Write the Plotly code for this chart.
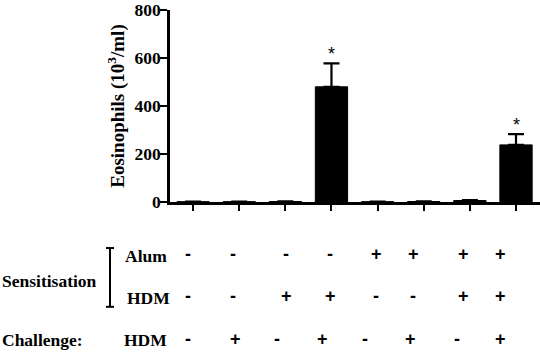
import plotly.graph_objects as go

# ---- data ----
groups = ["G1", "G2", "G3", "G4", "G5", "G6", "G7", "G8"]
eos_values = [1, 1, 2, 480, 1, 2, 6, 238]
eos_errors = [1, 1, 1, 98, 1, 1, 2, 45]
significant = [False, False, False, True, False, False, False, True]
alum_row = ["-", "-", "-", "-", "+", "+", "+", "+"]
hdm_sens_row = ["-", "-", "+", "+", "-", "-", "+", "+"]
challenge_row = ["-", "+", "-", "+", "-", "+", "-", "+"]
y_ticks = [0, 200, 400, 600, 800]

# ---- layout constants (pixels) ----
W, H = 540, 353
L, R, T, B = 170, 0, 6, 151
pw, ph = W - L - R, H - T - B


def px(xp):
    return (xp - L) / pw


def py(yp):
    return (H - B - yp) / ph


xs = list(range(len(groups)))

fig = go.Figure()
fig.add_trace(go.Bar(
    x=xs, y=eos_values, width=0.7,
    marker=dict(color="black", line=dict(color="black", width=1)),
    error_y=dict(type="data", array=eos_errors, arrayminus=[0] * len(groups),
                 symmetric=False, color="black", thickness=2.2, width=8),
    showlegend=False,
))

ann = []
serif = "Liberation Serif"
sans = "Liberation Sans"
for i, (v, e, s) in enumerate(zip(eos_values, eos_errors, significant)):
    if s:
        ann.append(dict(x=i, y=v + e, xref="x", yref="y", text="*", showarrow=False,
                        yanchor="bottom", yshift=-3,
                        font=dict(family=sans, size=18, color="black")))

# table columns (pixel x of centre of each column)
col_px_top = [188, 233, 286, 330, 376, 413, 463, 500]
col_px_bot = [188, 235, 277, 322, 365, 410, 457, 500]
rows = [(alum_row, 255, col_px_top), (hdm_sens_row, 298, col_px_top), (challenge_row, 342, col_px_bot)]
for vals, yp, cols in rows:
    for v, xp in zip(vals, cols):
        ann.append(dict(x=px(xp), y=py(yp), xref="paper", yref="paper", text="<b>%s</b>" % v,
                        showarrow=False, xanchor="center", yanchor="middle",
                        font=dict(family=sans, size=18, color="black")))

lab_font = dict(family=serif, size=17.5, color="black")
ann += [
    dict(x=px(0), y=py(283), xref="paper", yref="paper", text="<b>Sensitisation</b>",
         showarrow=False, xanchor="left", yanchor="middle", font=lab_font),
    dict(x=px(123), y=py(257), xref="paper", yref="paper", text="<b>Alum</b>",
         showarrow=False, xanchor="left", yanchor="middle", font=lab_font),
    dict(x=px(125), y=py(300), xref="paper", yref="paper", text="<b>HDM</b>",
         showarrow=False, xanchor="left", yanchor="middle", font=lab_font),
    dict(x=px(0), y=py(343), xref="paper", yref="paper", text="<b>Challenge:</b>",
         showarrow=False, xanchor="left", yanchor="middle", font=lab_font),
    dict(x=px(122), y=py(343), xref="paper", yref="paper", text="<b>HDM</b>",
         showarrow=False, xanchor="left", yanchor="middle", font=lab_font),
]

shapes = [
    dict(type="line", xref="paper", yref="paper", x0=px(110), x1=px(110), y0=py(249), y1=py(309),
         line=dict(color="black", width=2)),
    dict(type="line", xref="paper", yref="paper", x0=px(106), x1=px(114), y0=py(249), y1=py(249),
         line=dict(color="black", width=2)),
    dict(type="line", xref="paper", yref="paper", x0=px(106), x1=px(114), y0=py(309), y1=py(309),
         line=dict(color="black", width=2)),
]

fig.update_layout(
    width=W, height=H, margin=dict(l=L, r=R, t=T, b=B),
    plot_bgcolor="white", paper_bgcolor="white",
    annotations=ann, shapes=shapes, bargap=0.3,
)
fig.update_xaxes(range=[-0.5, 7.52], showgrid=False, zeroline=False, showline=True,
                 linecolor="black", linewidth=2.5, ticks="outside", ticklen=6, tickwidth=2,
                 tickcolor="black", tickvals=xs, showticklabels=False)
fig.update_yaxes(range=[0, 800], showgrid=False, zeroline=False, showline=True,
                 linecolor="black", linewidth=2.5, ticks="outside", ticklen=7, tickwidth=2,
                 tickcolor="black", tickvals=y_ticks, ticktext=["<b>%d</b>" % t for t in y_ticks],
                 ticklabeloverflow="allow", ticklabelstandoff=-4,
                 tickfont=dict(family=serif, size=17.5, color="black"),
                 title=dict(text="<b>Eosinophils (10<sup>3</sup>/ml)</b>", standoff=5,
                            font=dict(family=serif, size=19, color="black")))

fig.write_html("out.html")
